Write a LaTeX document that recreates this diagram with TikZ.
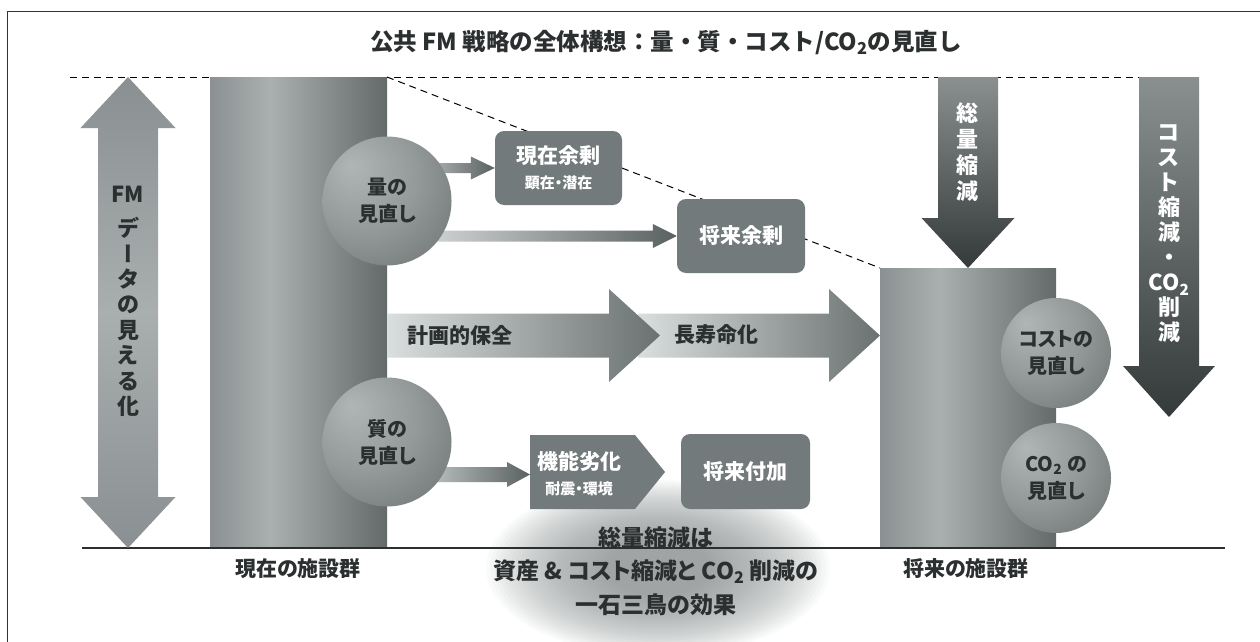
\documentclass[tikz,border=0pt]{standalone}
\usepackage{fontspec}
\usepackage{graphicx}
\setmainfont{Noto Sans CJK JP}[RawFeature=+palt]
\newfontfamily\jpnp{Noto Sans CJK JP}
\usetikzlibrary{calc}
\definecolor{txt}{HTML}{2B2F2F}
\definecolor{boxc}{HTML}{737A7B}
\definecolor{pilA}{HTML}{5E6465}
\definecolor{pilB}{HTML}{AAB0B0}
\definecolor{pilC}{HTML}{2F3535}
\definecolor{sphA}{HTML}{B0B5B5}
\definecolor{sphB}{HTML}{939999}
\definecolor{sphC}{HTML}{5E6565}
\definecolor{sphD}{HTML}{3E4444}
\definecolor{glowA}{HTML}{8A8F8F}
\definecolor{arrL}{HTML}{DADEDE}
\definecolor{arrR}{HTML}{6A7171}
\definecolor{smL}{HTML}{E4E7E7}
\definecolor{smR}{HTML}{5A6161}
\definecolor{dTopC}{HTML}{8A9090}
\definecolor{dBotC}{HTML}{343A3A}
\definecolor{dblEnd}{HTML}{8A9091}
\definecolor{dblMid}{HTML}{A9AFAF}
\definecolor{framec}{HTML}{333333}
\pgfdeclarehorizontalshading{pillar}{100bp}{color(0bp)=(pilA); color(42bp)=(pilB); color(100bp)=(pilC)}
\pgfdeclareradialshading{sph}{\pgfpoint{-14bp}{14bp}}{color(0bp)=(sphA); color(22bp)=(sphB); color(52bp)=(sphC); color(75bp)=(sphD)}
\newcommand\harr[6]{\shade[#6] let \p1=(#1), \p2=(#2) in (\x1,\y2+#3) -- (\x2-#5,\y2+#3) -- (\x2-#5,\y2+#4) -- (\x2,\y2) -- (\x2-#5,\y2-#4) -- (\x2-#5,\y2-#3) -- (\x1,\y2-#3) -- cycle;}
\newcommand\varr[6]{\shade[#6] let \p1=(#1), \p2=(#2) in (\x2-#3,\y1) -- (\x2-#3,\y2+#5) -- (\x2-#4,\y2+#5) -- (\x2,\y2) -- (\x2+#4,\y2+#5) -- (\x2+#3,\y2+#5) -- (\x2+#3,\y1) -- cycle;}
\newcommand\vbar{{\addfontfeatures{RawFeature=+vert}ー}}
\begin{document}
\begin{tikzpicture}[x=1pt,y=-1pt,
  framest/.style={draw=framec,line width=1.5pt},
  dashst/.style={draw=black,line width=1pt,dash pattern=on 7pt off 5pt},
  basest/.style={draw=txt,line width=2pt},
  pillarst/.style={shade,shading=pillar,inner sep=0pt,outer sep=0pt,rectangle},
  ballst/.style={circle,shade,shading=sph,inner sep=0pt,outer sep=0pt,align=center,text=txt,font=\fontsize{20}{27}\selectfont\bfseries},
  boxst/.style={rectangle,rounded corners=9pt,fill=boxc,inner sep=0pt,align=center,text=white,font=\fontsize{21}{25}\selectfont\bfseries},
  wtxt/.style={align=center,text=white,inner sep=0pt,font=\fontsize{21}{25}\selectfont\bfseries},
  vwhite/.style={align=center,text=white,inner sep=0pt,font=\fontsize{22}{26}\selectfont\bfseries},
  vdark/.style={align=center,text=txt,inner sep=0pt,font=\fontsize{22}{25.4}\selectfont\bfseries},
  dtxt/.style={text=txt,inner sep=0pt,font=\fontsize{21}{25}\selectfont\bfseries},
  ltxt/.style={text=txt,inner sep=0pt,font=\fontsize{21}{24}\selectfont\bfseries},
  titlest/.style={text=txt,inner sep=0pt,font=\jpnp\fontsize{23.5}{28}\selectfont\bfseries},
  gtxt/.style={align=center,text=txt,inner sep=0pt,font=\fontsize{23}{33.5}\selectfont\bfseries},
  bigarr/.style={left color=arrL,right color=arrR},
  smarr/.style={left color=smL,right color=smR},
  dnarr/.style={top color=dTopC,bottom color=dBotC},
  dblst/.style={top color=dblEnd,bottom color=dblEnd,middle color=dblMid}]
\useasboundingbox (0,0) rectangle (1260,642);
\fill[white] (0,0) rectangle (1260,642);
% frame
\coordinate (fBL) at (7.5,642);
\coordinate (fTL) at (7.5,11.5);
\coordinate (fTR) at (1262,11.5);
\draw[framest] (fBL) -- (fTL) -- (fTR);
% title
\node[titlest] (title) at (666,43) {公共 FM 戦略の全体構想：量・質・コスト/CO\textsubscript{2}の見直し};
% soft glow behind the effect text
\coordinate (glowc) at (658,568);
\foreach \i in {0,...,29}
  \fill[glowA,opacity=0.045] (glowc) ellipse [x radius={172-4.2*\i}, y radius={88-2.1*\i}];
% dashed reference line
\coordinate (dl) at (70,77);
\coordinate (dr) at (1140,77);
\draw[dashst] (dl) -- (dr);
% pillars
\node[pillarst,minimum width=177pt,minimum height=471pt] (cur) at (298.5,312.5) {};
\node[pillarst,minimum width=176pt,minimum height=280pt] (fut) at (968,408) {};
\draw[dashst] (cur.north east) -- (fut.north west);
% baseline
\coordinate (bl) at (82,548);
\coordinate (br) at (1225,548);
\draw[basest] (bl) -- (br);
\node[ltxt] (curl) at (298,569) {現在の施設群};
\node[ltxt] (futl) at (966,569) {将来の施設群};
% left double arrow
\coordinate (dTop) at (128,77);
\coordinate (dBot) at (128,548);
\shade[dblst] (dTop) -- (175.5,128) -- (158,128) -- (158,497) -- (175.5,497) -- (dBot) -- (80.5,497) -- (98,497) -- (98,128) -- (80.5,128) -- cycle;
\node[vdark] (fm) at (128,194) {FM};
\node[vdark] (fmv) at (128,317) {デ\\\vbar\\タ\\の\\見\\え\\る\\化};
% down arrows
\coordinate (totS) at (968,77);
\varr{totS}{fut.north}{30pt}{46.5pt}{50pt}{dnarr}
\node[vwhite] (tot) at (967,152) {総\\量\\縮\\減};
\coordinate (cstS) at (1169,77);
\coordinate (cstT) at (1169,417);
\varr{cstS}{cstT}{30pt}{46pt}{51pt}{dnarr}
\node[vwhite,font=\fontsize{22}{25}\selectfont\bfseries] (cst) at (1169,234) {コ\\ス\\ト\\縮\\減\\・\\CO\textsubscript{2}\\削\\減};
% boxes
\node[boxst,minimum width=127pt,minimum height=74pt] (b1) at (558.5,168) {現在余剰\\{\fontsize{15}{25}\selectfont 顕在・潜在}};
\node[boxst,minimum width=128pt,minimum height=74pt] (b2) at (741,236) {将来余剰};
\node[boxst,minimum width=129pt,minimum height=75pt] (b3) at (745.5,471.5) {将来付加};
\coordinate (flW) at (530,474.5);
\fill[boxc] (530,435) -- (635,435) -- (665,472) -- (635,509) -- (530,509) -- cycle;
\node[wtxt] (fl) at (579,474) {機能劣化\\{\fontsize{15}{25}\selectfont 耐震・環境}};
% big arrows
\coordinate (pmT) at (660,335.5);
\coordinate (lfS) at (638,335.5);
\coordinate (lfT) at (fut.west |- pmT);
\harr{lfS}{lfT}{22pt}{46.5pt}{51pt}{bigarr}
\harr{cur.east}{pmT}{22pt}{46.5pt}{51pt}{bigarr}
\node[dtxt] (pm) at (460,335) {計画的保全};
\node[dtxt] (lf) at (716,335) {長寿命化};
% small arrows from spheres
\coordinate (q1c) at (387,201);
\coordinate (q2c) at (387,442);
\harr{q1c}{b1.west}{5pt}{11.5pt}{24pt}{smarr}
\harr{q1c}{b2.west}{5.5pt}{12pt}{24pt}{smarr}
\harr{q2c}{flW}{7.5pt}{12.5pt}{23pt}{smarr}
% spheres
\node[ballst,minimum size=129pt] (q1) at (q1c) {量の\\見直し};
\node[ballst,minimum size=129pt] (q2) at (q2c) {質の\\見直し};
\node[ballst,minimum size=110pt] (c1) at (fut.east |- 0,353) {コストの\\見直し};
\node[ballst,minimum size=110pt] (c2) at (fut.east |- 0,478) {CO\textsubscript{2} の\\見直し};
% effect text
\node[gtxt] (eff) at (656,571) {総量縮減は\\資産 \& コスト縮減と CO\textsubscript{2} 削減の\\一石三鳥の効果};
\end{tikzpicture}
\end{document}
